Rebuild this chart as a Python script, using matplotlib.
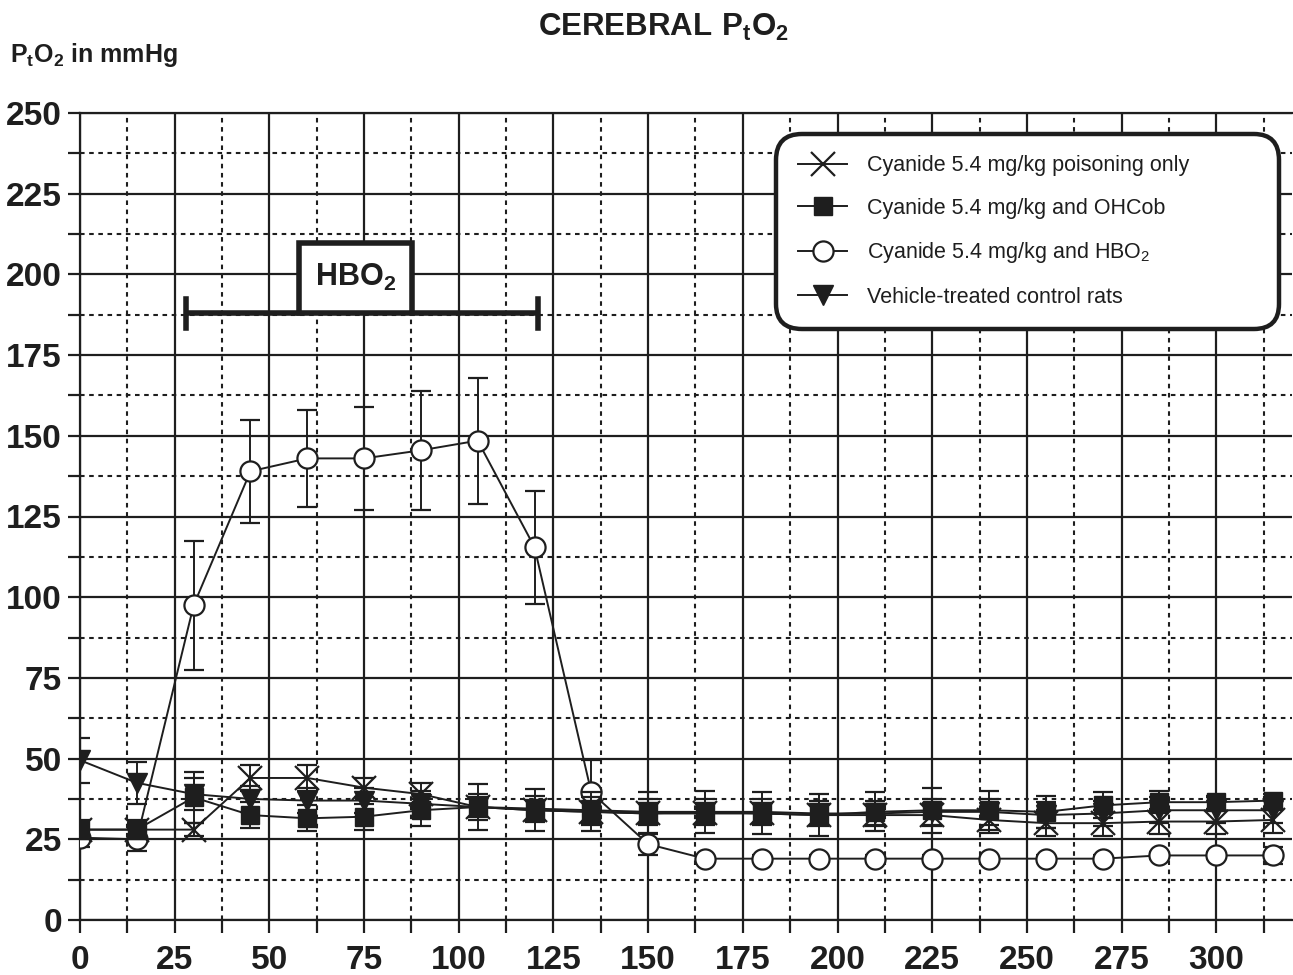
import matplotlib
matplotlib.use("Agg")
import matplotlib.pyplot as plt
from matplotlib.lines import Line2D
from matplotlib.ticker import MultipleLocator

plt.rcParams['font.family'] = ['Liberation Sans', 'DejaVu Sans']
plt.rcParams['mathtext.fontset'] = 'custom'
plt.rcParams['mathtext.rm'] = 'Liberation Sans'
plt.rcParams['mathtext.bf'] = 'Liberation Sans:bold'

# time in minutes
minutes = [0, 15, 30, 45, 60, 75, 90, 105, 120, 135, 150,
           165, 180, 195, 210, 225, 240, 255, 270, 285, 300, 315]

cyanide_only = [28, 28, 28, 44, 44, 41, 39, 35, 34, 33.5, 33,
                33, 33, 32.5, 32.5, 32.5, 31, 30, 30, 30.5, 30.5, 31]
cyanide_only_sd = [2, 2, 2, 4, 4, 3, 3.5, 3, 3, 3, 3,
                   3, 3, 3, 3, 3.5, 4, 4, 4, 4, 4, 4]

ohcob = [28, 28, 38, 32.5, 31.5, 32, 34, 35, 34, 33.5, 33,
         33.5, 33, 32.5, 33.5, 34, 34, 33.5, 35.5, 36.5, 36.5, 37]
ohcob_sd = [3, 3, 8, 4, 4, 4, 5, 7, 6.5, 6, 6.5,
            6.5, 6.5, 6.5, 6, 7, 6, 5, 4, 3.5, 2, 2]

hbo2 = [25.5, 25, 97.5, 139, 143, 143, 145.5, 148.5, 115.5, 39.5, 23.5,
        19, 19, 19, 19, 19, 19, 19, 19, 20, 20, 20]
hbo2_sd = [3, 3.5, 20, 16, 15, 16, 18.5, 19.5, 17.5, 10, 3.5,
           1, 1, 1, 1, 1, 1, 1, 1, 1, 1, 2.5]

vehicle = [49.5, 42.5, 39, 37.5, 37, 37, 36, 35, 34.5, 34, 33.5,
           33.5, 33.5, 33, 33, 33.5, 33.5, 32.5, 33, 34, 34, 34]
vehicle_sd = [7, 6.5, 5, 4, 4, 4, 4, 4, 4, 4, 4,
              4, 4, 4, 4, 4, 4, 4, 4, 4, 4, 4]

legend_labels = ["Cyanide 5.4 mg/kg poisoning only",
                 "Cyanide 5.4 mg/kg and OHCob",
                 "Cyanide 5.4 mg/kg and HBO$_2$",
                 "Vehicle-treated control rats"]

fig = plt.figure(figsize=(12.93, 9.75), dpi=100)
ax = fig.add_axes([80 / 1293, 1 - 920 / 975, 1212 / 1293, 807 / 975])

ink = '#1e1e1e'
err_kw = dict(color=ink, lw=1.4, capsize=7.5, capthick=1.6, elinewidth=1.4)

ax.errorbar(minutes, hbo2, yerr=hbo2_sd, marker='o', ms=14.5, mfc='white',
            mec=ink, mew=1.6, zorder=3, **err_kw)
ax.errorbar(minutes, cyanide_only, yerr=cyanide_only_sd, marker='x', ms=17,
            mew=1.6, zorder=4, **err_kw)
ax.errorbar(minutes, vehicle, yerr=vehicle_sd, marker='v', ms=15,
            mfc=ink, mec=ink, zorder=4, **err_kw)
ax.errorbar(minutes, ohcob, yerr=ohcob_sd, marker='s', ms=13.5,
            mfc=ink, mec=ink, zorder=5, **err_kw)

ax.set_xlim(0, 320)
ax.set_ylim(0, 250)
ax.xaxis.set_major_locator(MultipleLocator(25))
ax.xaxis.set_minor_locator(MultipleLocator(12.5))
ax.yaxis.set_major_locator(MultipleLocator(25))
ax.yaxis.set_minor_locator(MultipleLocator(12.5))
ax.grid(which='major', color=ink, lw=1.6, ls='-')
ax.grid(which='minor', color=ink, lw=1.5, ls=(0, (2.2, 2.2)))
ax.set_axisbelow(True)
ax.tick_params(which='both', direction='out', length=9, width=1.6, color=ink,
               labelsize=24, pad=4)
ax.tick_params(axis='x', pad=9)
for lab in ax.get_xticklabels() + ax.get_yticklabels():
    lab.set_fontweight('bold')
    lab.set_color(ink)
for side in ['left', 'bottom', 'top']:
    ax.spines[side].set_linewidth(1.6)
    ax.spines[side].set_color(ink)
ax.spines['right'].set_visible(False)

# HBO2 exposure bracket
ax.plot([28, 121], [188, 188], color=ink, lw=4, solid_capstyle='butt', zorder=6)
ax.plot([28, 28], [183.5, 192.5], color=ink, lw=4, zorder=6)
ax.plot([121, 121], [183.5, 192.5], color=ink, lw=4, zorder=6)
ax.plot([57.8, 57.8, 87.6, 87.6], [188, 209.7, 209.7, 188], color=ink, lw=4,
        solid_joinstyle='miter', zorder=6)
ax.fill_between([58.3, 87.1], 188.5, 209.2, color='white', zorder=5)
ax.text(72.7, 199, r'$\mathbf{HBO_2}$', fontsize=22, ha='center', va='center',
        color=ink, zorder=7)

# legend
handles = [Line2D([], [], color=ink, lw=1.4, marker='x', ms=17, mew=1.6),
           Line2D([], [], color=ink, lw=1.4, marker='s', ms=13.5, mfc=ink),
           Line2D([], [], color=ink, lw=1.4, marker='o', ms=14.5, mfc='white',
                  mew=1.6),
           Line2D([], [], color=ink, lw=1.4, marker='v', ms=15, mfc=ink)]
leg = ax.legend(handles, legend_labels, loc='upper left', mode='expand',
                bbox_to_anchor=(0.578, 0.729, 0.408, 0.240),
                borderaxespad=0, fancybox=True, framealpha=1,
                prop={'family': 'Liberation Sans', 'size': 15.5},
                handlelength=2.3, handletextpad=0.9, labelspacing=1.0,
                borderpad=0.8)
frame = leg.get_frame()
frame.set_boxstyle('round,pad=0.2,rounding_size=1.2')
frame.set_edgecolor(ink)
frame.set_linewidth(3.2)
leg.set_zorder(10)
for t in leg.get_texts():
    t.set_color(ink)

fig.text(0.513, 0.988, r'$\mathbf{CEREBRAL\ P_tO_2}$', fontsize=22.5,
         ha='center', va='top', color=ink)
fig.text(0.008, 0.958, r'$\mathbf{P_tO_2}$ in mmHg', fontsize=18,
         fontweight='bold', ha='left', va='top', color=ink)

fig.savefig("out.png", dpi=100)
